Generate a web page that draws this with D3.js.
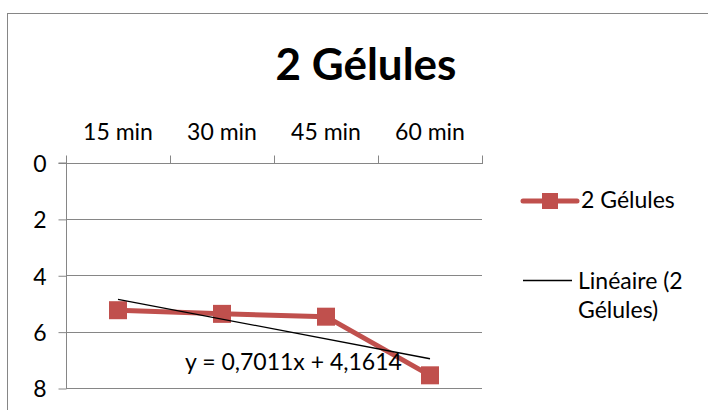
<!DOCTYPE html>
<html><head><meta charset="utf-8">
<script src="https://cdn.jsdelivr.net/npm/d3@7"></script>
<style>body{margin:0;background:#fff}svg{display:block}text{font-family:Lato,"Open Sans",sans-serif;fill:#000}</style>
</head><body><svg id="c" width="708" height="410"></svg>
<script>
const title = "2 Gélules";
const categories = ["15 min", "30 min", "45 min", "60 min"];
const values = [5.24, 5.37, 5.47, 7.55];
const yTicks = [0, 2, 4, 6, 8];
const seriesName = "2 Gélules";
const trendName = ["Linéaire (2", "Gélules)"];
const trendLabel = "y = 0,7011x + 4,1614";

const FS = "23px";
const svg = d3.select("#c");
const plot = {l: 66, r: 482, t: 162.5, b: 388};

svg.append("rect").attr("x", 7.5).attr("y", 13.5).attr("width", 800).attr("height", 500)
  .attr("fill", "#fff").attr("stroke", "#868686").attr("stroke-width", 1);

svg.append("text").attr("x", 366).attr("y", 80).attr("text-anchor", "middle")
  .style("font-size", "44px").style("font-weight", "bold").text(title);

const x = d3.scaleBand().domain(categories).range([plot.l, plot.r]).padding(0);
const y = d3.scaleLinear().domain([0, 8]).range([plot.t, plot.b]);

// gridlines
svg.append("g").selectAll("line").data(yTicks.filter(d => d !== 0)).join("line")
  .attr("x1", plot.l).attr("x2", plot.r).attr("y1", d => Math.round(y(d)) + 0.5).attr("y2", d => Math.round(y(d)) + 0.5)
  .attr("stroke", "#868686").attr("stroke-width", 1);

// y axis
const yAxis = d3.axisLeft(y).tickValues(yTicks).tickSize(8).tickPadding(12).tickFormat(d3.format("d"));
const gy = svg.append("g").attr("transform", `translate(${plot.l + 0.5},0.5)`).call(yAxis);
gy.select(".domain").attr("stroke", "#868686").attr("d", `M-8,${y(0)}H0V${y(8)}`);
gy.selectAll(".tick line").attr("stroke", "#868686");
gy.selectAll(".tick text").style("font-size", FS).style("font-family", "Lato, sans-serif").attr("fill", "#000").attr("dy", "0.36em");

// x axis on top (categories), ticks at band edges
const gx = svg.append("g").attr("transform", `translate(0,${Math.round(y(0)) + 0.5})`);
gx.append("line").attr("x1", plot.l).attr("x2", plot.r + 1).attr("stroke", "#868686");
const edges = categories.map(c => x(c)).concat([x(categories[categories.length - 1]) + x.bandwidth()]);
gx.selectAll("line.t").data(edges).join("line").attr("class", "t")
  .attr("x1", d => Math.round(d) + 0.5).attr("x2", d => Math.round(d) + 0.5).attr("y1", 0).attr("y2", -8)
  .attr("stroke", "#868686");
gx.selectAll("text").data(categories).join("text")
  .attr("x", d => x(d) + x.bandwidth() / 2).attr("y", -24).attr("text-anchor", "middle")
  .style("font-size", FS).text(d => d);

// trendline via linear regression on index 1..n
const n = values.length;
const xs = values.map((_, i) => i + 1);
const mx = d3.mean(xs), my = d3.mean(values);
const slope = d3.sum(xs.map((xi, i) => (xi - mx) * (values[i] - my))) / d3.sum(xs.map(xi => (xi - mx) ** 2));
const icpt = my - slope * mx;
const cx = i => x(categories[i]) + x.bandwidth() / 2;

// series line
svg.append("path").datum(values)
  .attr("d", d3.line().x((d, i) => cx(i)).y(d => y(d)))
  .attr("fill", "none").attr("stroke", "#C0504D").attr("stroke-width", 5).attr("stroke-linejoin", "round");
svg.append("g").selectAll("rect").data(values).join("rect")
  .attr("x", (d, i) => cx(i) - 9).attr("y", d => y(d) - 9).attr("width", 18).attr("height", 18)
  .attr("fill", "#C0504D");

svg.append("line")
  .attr("x1", cx(0)).attr("y1", y(slope * 1 + icpt))
  .attr("x2", cx(n - 1)).attr("y2", y(slope * n + icpt))
  .attr("stroke", "#000").attr("stroke-width", 1.3);

svg.append("text").attr("x", 185).attr("y", 370).style("font-size", FS).text(trendLabel);

// legend
const lg = svg.append("g");
lg.append("line").attr("x1", 523).attr("x2", 577).attr("y1", 201).attr("y2", 201)
  .attr("stroke", "#C0504D").attr("stroke-width", 5).attr("stroke-linecap", "round");
lg.append("rect").attr("x", 542).attr("y", 193).attr("width", 16).attr("height", 16).attr("fill", "#C0504D");
lg.append("text").attr("x", 581).attr("y", 208).style("font-size", FS).text(seriesName);
lg.append("line").attr("x1", 523).attr("x2", 572).attr("y1", 280.5).attr("y2", 280.5)
  .attr("stroke", "#000").attr("stroke-width", 1.3);
lg.selectAll("text.tn").data(trendName).join("text").attr("class", "tn")
  .attr("x", 578).attr("y", (d, i) => 289 + i * 29).style("font-size", FS).text(d => d);
</script></body></html>
